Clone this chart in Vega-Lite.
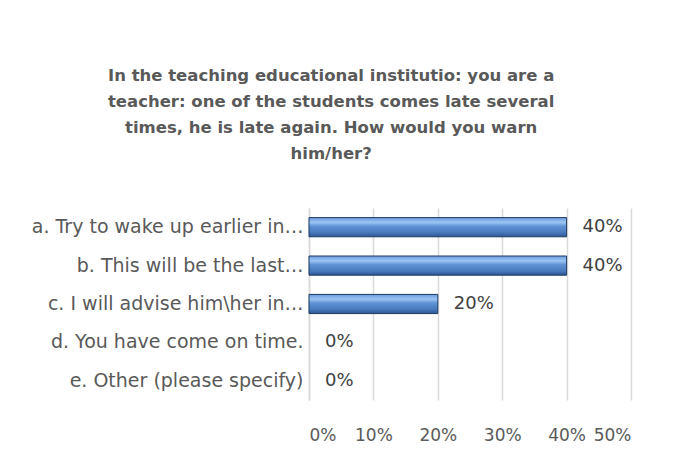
{
  "$schema": "https://vega.github.io/schema/vega-lite/v6.json",
  "width": 322,
  "height": 192,
  "autosize": "none",
  "padding": {"left": 309, "top": 208, "right": 46, "bottom": 58},
  "background": "white",
  "config": {"view": {"stroke": null}, "font": "DejaVu Sans"},
  "title": {
    "text": ["In the  teaching educational institutio: you are a", "teacher: one of the students comes late several", "times,  he is late again. How would you warn", "him/her?"],
    "frame": "bounds",
    "anchor": "middle",
    "font": "DejaVu Sans",
    "fontSize": 16.5,
    "fontWeight": "bold",
    "color": "#595959",
    "lineHeight": 26,
    "offset": 46
  },
  "data": {
    "values": [
      {"option": "a. Try to wake up earlier in…", "share": 0.4},
      {"option": "b. This will be the last…", "share": 0.4},
      {"option": "c. I will advise him\\her in…", "share": 0.2},
      {"option": "d. You have come on time.", "share": 0},
      {"option": "e. Other (please specify)", "share": 0}
    ]
  },
  "encoding": {
    "y": {
      "field": "option",
      "type": "nominal",
      "sort": null,
      "title": null,
      "scale": {"paddingInner": 0.5, "paddingOuter": 0.25},
      "axis": {
        "ticks": false,
        "domain": true,
        "domainColor": "#d9d9d9",
        "domainWidth": 1.5,
        "labelFont": "DejaVu Sans",
        "labelFontSize": 19,
        "labelColor": "#595959",
        "labelPadding": 6,
        "labelLimit": 400
      }
    },
    "x": {
      "field": "share",
      "type": "quantitative",
      "title": null,
      "scale": {"domain": [0, 0.5]},
      "axis": {
        "format": ".0%",
        "values": [0, 0.1, 0.2, 0.3, 0.4, 0.5],
        "domain": false,
        "ticks": false,
        "grid": true,
        "gridColor": "#d9d9d9",
        "gridWidth": 1.5,
        "labelFont": "DejaVu Sans",
        "labelFontSize": 17,
        "labelColor": "#595959",
        "labelPadding": 27,
        "labelOverlap": false
      }
    }
  },
  "layer": [
    {
      "transform": [{"filter": "datum.share > 0"}],
      "mark": {
        "type": "bar",
        "stroke": "#1f3b63",
        "strokeWidth": 1,
        "color": {
          "gradient": "linear",
          "x1": 0, "y1": 0, "x2": 0, "y2": 1,
          "stops": [
            {"offset": 0, "color": "#6a9be0"},
            {"offset": 0.25, "color": "#9cc4f2"},
            {"offset": 0.45, "color": "#5f93d6"},
            {"offset": 0.8, "color": "#4677bb"},
            {"offset": 1, "color": "#2c5490"}
          ]
        }
      }
    },
    {
      "mark": {"type": "text", "align": "left", "dx": 16, "font": "DejaVu Sans", "fontSize": 18, "color": "#404040"},
      "encoding": {"text": {"field": "share", "type": "quantitative", "format": ".0%"}}
    }
  ]
}
